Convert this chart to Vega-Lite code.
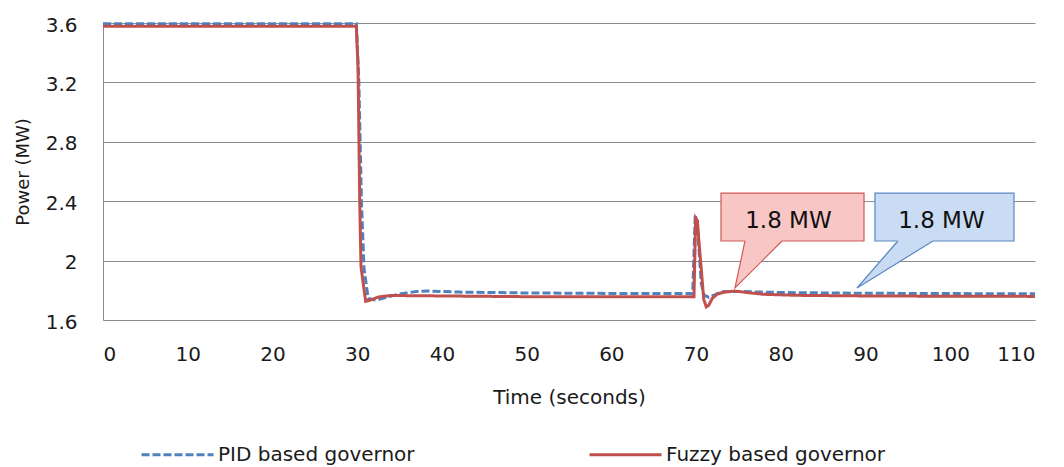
{
  "$schema": "https://vega.github.io/schema/vega-lite/v6.json",
  "autosize": "none",
  "width": 932,
  "height": 297,
  "padding": {"left": 103, "top": 23, "right": 29, "bottom": 147},
  "background": "white",
  "config": {
    "view": {"stroke": null},
    "font": "DejaVu Sans",
    "axis": {"labelFont": "DejaVu Sans", "titleFont": "DejaVu Sans", "labelColor": "#1a1a1a", "titleColor": "#1a1a1a", "labelFontSize": 20, "titleFontSize": 20, "titleFontWeight": "normal", "domainColor": "#8c8c8c", "gridColor": "#8c8c8c", "ticks": false, "tickSize": 0}
  },
  "datasets": {
    "lines": [
      {"series": "PID based governor", "t": 0, "p": 3.595},
      {"series": "PID based governor", "t": 29.9, "p": 3.595},
      {"series": "PID based governor", "t": 30.2, "p": 3.2},
      {"series": "PID based governor", "t": 30.5, "p": 2.4},
      {"series": "PID based governor", "t": 30.8, "p": 1.95},
      {"series": "PID based governor", "t": 31.3, "p": 1.745},
      {"series": "PID based governor", "t": 32.3, "p": 1.733},
      {"series": "PID based governor", "t": 33.5, "p": 1.755},
      {"series": "PID based governor", "t": 35, "p": 1.775},
      {"series": "PID based governor", "t": 37, "p": 1.792},
      {"series": "PID based governor", "t": 38.5, "p": 1.795},
      {"series": "PID based governor", "t": 42, "p": 1.788},
      {"series": "PID based governor", "t": 50, "p": 1.782},
      {"series": "PID based governor", "t": 60, "p": 1.779},
      {"series": "PID based governor", "t": 69.6, "p": 1.778},
      {"series": "PID based governor", "t": 69.9, "p": 2.31},
      {"series": "PID based governor", "t": 70.2, "p": 2.2},
      {"series": "PID based governor", "t": 70.6, "p": 1.85},
      {"series": "PID based governor", "t": 70.9, "p": 1.77},
      {"series": "PID based governor", "t": 71.5, "p": 1.752},
      {"series": "PID based governor", "t": 72.2, "p": 1.77},
      {"series": "PID based governor", "t": 73, "p": 1.79},
      {"series": "PID based governor", "t": 75, "p": 1.792},
      {"series": "PID based governor", "t": 80, "p": 1.785},
      {"series": "PID based governor", "t": 90, "p": 1.78},
      {"series": "PID based governor", "t": 110, "p": 1.776},
      {"series": "Fuzzy based governor", "t": 0, "p": 3.578},
      {"series": "Fuzzy based governor", "t": 29.9, "p": 3.578},
      {"series": "Fuzzy based governor", "t": 30.1, "p": 3.3},
      {"series": "Fuzzy based governor", "t": 30.3, "p": 2.4},
      {"series": "Fuzzy based governor", "t": 30.45, "p": 1.96},
      {"series": "Fuzzy based governor", "t": 31.0, "p": 1.725},
      {"series": "Fuzzy based governor", "t": 31.6, "p": 1.735},
      {"series": "Fuzzy based governor", "t": 32.5, "p": 1.755},
      {"series": "Fuzzy based governor", "t": 34, "p": 1.765},
      {"series": "Fuzzy based governor", "t": 40, "p": 1.762},
      {"series": "Fuzzy based governor", "t": 50, "p": 1.757},
      {"series": "Fuzzy based governor", "t": 60, "p": 1.756},
      {"series": "Fuzzy based governor", "t": 69.75, "p": 1.757},
      {"series": "Fuzzy based governor", "t": 69.95, "p": 2.287},
      {"series": "Fuzzy based governor", "t": 70.15, "p": 2.27},
      {"series": "Fuzzy based governor", "t": 70.35, "p": 2.12},
      {"series": "Fuzzy based governor", "t": 70.6, "p": 1.95},
      {"series": "Fuzzy based governor", "t": 70.9, "p": 1.74},
      {"series": "Fuzzy based governor", "t": 71.2, "p": 1.688},
      {"series": "Fuzzy based governor", "t": 71.5, "p": 1.7},
      {"series": "Fuzzy based governor", "t": 71.9, "p": 1.745},
      {"series": "Fuzzy based governor", "t": 72.5, "p": 1.775},
      {"series": "Fuzzy based governor", "t": 73.5, "p": 1.79},
      {"series": "Fuzzy based governor", "t": 74.6, "p": 1.795},
      {"series": "Fuzzy based governor", "t": 76, "p": 1.785},
      {"series": "Fuzzy based governor", "t": 78, "p": 1.773},
      {"series": "Fuzzy based governor", "t": 82, "p": 1.766},
      {"series": "Fuzzy based governor", "t": 90, "p": 1.762},
      {"series": "Fuzzy based governor", "t": 100, "p": 1.76},
      {"series": "Fuzzy based governor", "t": 110, "p": 1.759}
    ],
    "boxes": [
      {"callout": "Fuzzy", "x1": 72.94, "x2": 89.82, "y1": 2.132, "y2": 2.455, "xc": 80.9, "yc": 2.265, "label": "1.8 MW"},
      {"callout": "PID", "x1": 91.11, "x2": 107.52, "y1": 2.132, "y2": 2.455, "xc": 98.96, "yc": 2.265, "label": "1.8 MW"}
    ],
    "tails": [
      {"callout": "Fuzzy", "t": 74.59, "top": 1.8155, "bottom": 1.8155},
      {"callout": "Fuzzy", "t": 75.77, "top": 2.143, "bottom": 1.88},
      {"callout": "Fuzzy", "t": 80.14, "top": 2.143, "bottom": 2.132},
      {"callout": "PID", "t": 88.99, "top": 1.8155, "bottom": 1.8155},
      {"callout": "PID", "t": 93.83, "top": 2.143, "bottom": 1.985},
      {"callout": "PID", "t": 97.96, "top": 2.143, "bottom": 2.132}
    ],
    "edges": [
      {"callout": "Fuzzy", "k": 0, "t": 75.77, "p": 2.132},
      {"callout": "Fuzzy", "k": 1, "t": 74.59, "p": 1.8155},
      {"callout": "Fuzzy", "k": 2, "t": 80.14, "p": 2.132},
      {"callout": "PID", "k": 0, "t": 93.83, "p": 2.132},
      {"callout": "PID", "k": 1, "t": 88.99, "p": 1.8155},
      {"callout": "PID", "k": 2, "t": 97.96, "p": 2.132}
    ]
  },
  "layer": [
    {
      "data": {"name": "lines"},
      "mark": {"type": "line", "strokeWidth": 3, "interpolate": "linear"},
      "encoding": {
        "x": {"field": "t", "type": "quantitative", "scale": {"domain": [0, 110], "nice": false},
              "axis": {"title": "Time (seconds)", "values": [0,10,20,30,40,50,60,70,80,90,100,110], "grid": false, "labelPadding": 24, "titlePadding": 23, "domain": true}},
        "y": {"field": "p", "type": "quantitative", "scale": {"domain": [1.6, 3.6], "nice": false, "zero": false},
              "axis": {"title": "Power (MW)", "titleFontSize": 18, "values": [1.6,2,2.4,2.8,3.2,3.6], "format": "~g", "grid": true, "labelPadding": 26, "labelOffset": 2, "titlePadding": 13}},
        "color": {"field": "series", "type": "nominal",
                  "scale": {"domain": ["PID based governor", "Fuzzy based governor"], "range": ["#4f81bd", "#c0504d"]},
                  "legend": {"title": null, "orient": "none", "legendX": 37, "legendY": 394, "direction": "horizontal", "symbolType": "stroke", "symbolSize": 5184, "symbolStrokeWidth": 3, "labelFontSize": 20, "labelFont": "DejaVu Sans", "labelColor": "#1a1a1a", "labelOffset": 3, "labelLimit": 400, "columnPadding": 168, "padding": 0}},
        "strokeDash": {"field": "series", "type": "nominal",
                  "scale": {"domain": ["PID based governor", "Fuzzy based governor"], "range": [[8, 3], [1, 0]]},
                  "legend": {"title": null}}
      }
    },
    {
      "data": {"name": "boxes"},
      "transform": [{"filter": "datum.callout === 'Fuzzy'"}],
      "mark": {"type": "rect", "fill": "#f9c6c6", "stroke": "#d05a57", "strokeWidth": 1.2},
      "encoding": {"x": {"field": "x1", "type": "quantitative"}, "x2": {"field": "x2"}, "y": {"field": "y1", "type": "quantitative"}, "y2": {"field": "y2"}}
    },
    {
      "data": {"name": "tails"},
      "transform": [{"filter": "datum.callout === 'Fuzzy'"}],
      "mark": {"type": "area", "fill": "#f9c6c6", "opacity": 1},
      "encoding": {"x": {"field": "t", "type": "quantitative"}, "y": {"field": "top", "type": "quantitative"}, "y2": {"field": "bottom"}}
    },
    {
      "data": {"name": "edges"},
      "transform": [{"filter": "datum.callout === 'Fuzzy'"}],
      "mark": {"type": "line", "stroke": "#d05a57", "strokeWidth": 1.2},
      "encoding": {"x": {"field": "t", "type": "quantitative"}, "y": {"field": "p", "type": "quantitative"}, "order": {"field": "k"}}
    },
    {
      "data": {"name": "boxes"},
      "transform": [{"filter": "datum.callout === 'PID'"}],
      "mark": {"type": "rect", "fill": "#cadcf3", "stroke": "#5b88c2", "strokeWidth": 1.2},
      "encoding": {"x": {"field": "x1", "type": "quantitative"}, "x2": {"field": "x2"}, "y": {"field": "y1", "type": "quantitative"}, "y2": {"field": "y2"}}
    },
    {
      "data": {"name": "tails"},
      "transform": [{"filter": "datum.callout === 'PID'"}],
      "mark": {"type": "area", "fill": "#cadcf3", "opacity": 1},
      "encoding": {"x": {"field": "t", "type": "quantitative"}, "y": {"field": "top", "type": "quantitative"}, "y2": {"field": "bottom"}}
    },
    {
      "data": {"name": "edges"},
      "transform": [{"filter": "datum.callout === 'PID'"}],
      "mark": {"type": "line", "stroke": "#5b88c2", "strokeWidth": 1.2},
      "encoding": {"x": {"field": "t", "type": "quantitative"}, "y": {"field": "p", "type": "quantitative"}, "order": {"field": "k"}}
    },
    {
      "data": {"name": "boxes"},
      "mark": {"type": "text", "font": "DejaVu Sans", "fontSize": 23, "color": "#111", "align": "center", "baseline": "middle"},
      "encoding": {"x": {"field": "xc", "type": "quantitative"}, "y": {"field": "yc", "type": "quantitative"}, "text": {"field": "label"}}
    }
  ]
}
